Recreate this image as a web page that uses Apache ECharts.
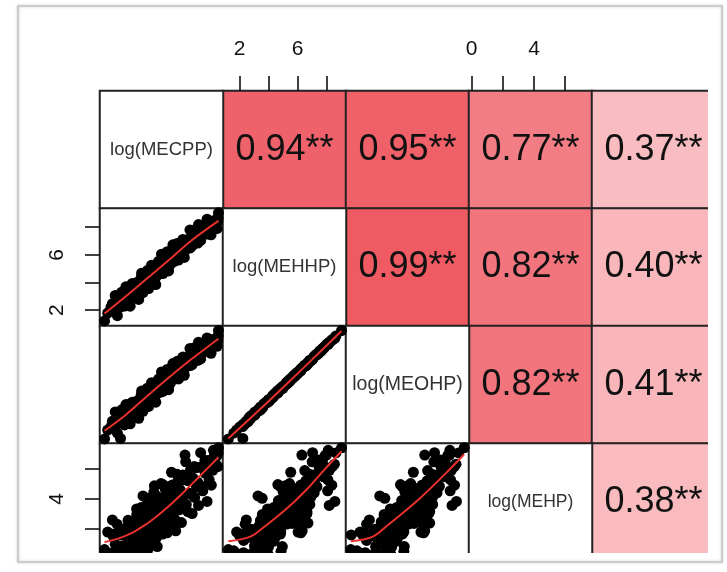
<!DOCTYPE html>
<html><head><meta charset="utf-8">
<script src="https://cdn.jsdelivr.net/npm/echarts@6/dist/echarts.min.js"></script>
<style>html,body{margin:0;padding:0;background:#fff}#c{width:727px;height:572px}</style>
</head><body><div id="c"></div>
<script>
// ---------- data ----------
const varNames = ['log(MECPP)', 'log(MEHHP)', 'log(MEOHP)', 'log(MEHP)'];

const mecpp = [1.50,1.72,1.95,2.10,2.25,2.38,2.50,2.62,2.75,2.85,2.95,3.05,3.12,3.20,3.28,3.35,3.42,3.50,3.57,3.63,
3.70,3.76,3.82,3.88,3.95,4.01,4.07,4.12,4.18,4.24,4.30,4.36,4.41,4.47,4.52,4.58,4.63,4.69,4.74,4.80,
4.85,4.91,4.96,5.02,5.07,5.13,5.18,5.24,5.29,5.35,5.40,5.46,5.52,5.58,5.63,5.69,5.75,5.81,5.87,5.93,
5.99,6.05,6.12,6.18,6.25,6.31,6.38,6.45,6.52,6.59,6.66,6.74,6.82,6.90,6.98,7.06,7.15,7.24,7.33,7.42,
7.52,7.62,7.72,7.83,7.94,8.05,8.17,8.30,8.44,8.58,8.72,8.85,8.98,9.10,9.22,9.32,9.40,9.45,9.48,9.50,
2.05,2.40,2.70,2.90,3.15,3.30,3.45,3.60,3.75,3.90,4.00,4.10,4.20,4.30,4.40,4.50,4.60,4.70,4.80,4.90,
5.00,5.10,5.20,5.30,5.40,5.50,5.60,5.70,5.80,5.90,6.00,6.10,6.20,6.30,6.40,6.50,6.60,6.70,6.80,6.90,
7.00,7.10,7.20,7.35,7.50,7.65,7.80,7.95,8.10,8.25,8.40,8.55,8.70,8.85,9.00,9.15,2.20,3.00,3.80,5.05];

const mehhp = [1.22,1.79,2.21,2.01,3.06,2.38,2.65,2.22,3.05,2.79,3.04,2.59,3.31,3.04,3.66,3.08,3.45,2.98,3.70,3.56,
3.48,3.99,3.44,3.85,4.02,3.68,4.34,3.99,3.60,4.26,4.11,4.47,3.97,4.38,4.68,4.29,3.99,4.65,4.60,5.00,
4.35,4.66,5.01,4.62,4.97,4.43,4.98,5.34,4.93,5.29,4.84,5.45,5.26,4.82,5.47,5.38,5.79,5.19,5.65,5.86,
5.52,5.93,5.30,5.91,6.23,5.73,6.00,6.27,5.79,6.36,6.58,6.21,6.48,6.01,6.84,6.60,6.30,6.85,6.60,7.15,
6.50,7.00,7.25,6.90,7.55,6.85,7.50,7.30,7.85,7.65,7.50,8.10,7.45,8.20,8.00,8.55,7.90,8.40,8.65,9.04,
2.46,1.60,3.30,2.29,3.44,2.28,3.93,2.88,3.93,2.77,3.97,4.67,3.27,4.36,3.86,4.86,3.56,4.56,5.25,4.05,
5.15,3.85,4.95,5.54,4.64,6.04,4.64,5.64,5.23,6.23,4.83,6.13,5.53,6.72,5.52,6.32,6.82,5.62,6.71,6.11,
7.11,5.81,7.01,6.65,7.80,6.65,7.79,7.34,8.19,7.04,8.08,7.63,8.58,7.72,8.37,8.12,2.21,3.69,3.57,4.90];

const meohp = [0.82,1.45,1.70,1.68,2.75,1.90,2.35,0.85,2.55,2.48,2.70,2.05,2.95,2.52,3.30,2.72,2.90,2.62,3.35,3.05,
3.12,3.48,3.10,3.46,3.52,3.30,3.95,3.62,3.10,3.88,3.60,4.10,3.58,3.90,4.30,3.78,3.61,4.15,4.22,4.48,
3.95,4.28,4.52,4.10,4.58,4.02,4.45,4.95,4.52,4.80,4.45,4.92,4.88,4.35,5.08,4.90,5.40,4.70,5.25,5.35,
5.12,5.52,4.80,5.50,5.70,5.32,5.58,5.85,5.28,5.95,6.05,5.80,6.08,5.50,6.40,6.10,5.88,6.42,6.08,6.72,
6.08,6.50,6.82,6.40,7.12,6.45,7.00,6.88,7.38,7.12,7.08,7.65,6.95,7.70,7.58,8.02,7.45,7.90,8.20,8.58,
2.09,1.24,2.90,1.82,3.05,1.90,3.45,2.48,3.52,2.30,3.56,4.25,2.80,3.95,3.40,4.45,3.15,4.08,4.85,3.58,
4.72,3.45,4.48,5.12,4.15,5.62,4.22,5.15,4.80,5.80,4.35,5.70,5.10,6.22,5.10,5.88,6.38,5.12,6.28,5.62,
6.68,5.38,6.50,6.22,7.30,6.15,7.35,6.85,7.75,6.55,7.62,7.18,8.05,7.28,7.92,7.60,1.82,3.28,3.10,4.48];

const mehp = [0.60,1.77,0.35,1.50,0.96,2.30,0.24,1.58,0.83,1.96,0.29,1.43,2.15,0.78,1.91,0.12,2.45,1.38,0.82,2.16,
0.30,2.94,1.37,2.41,0.95,2.19,3.42,1.35,0.29,2.82,1.96,3.20,0.93,2.56,3.89,1.83,0.76,2.99,2.32,3.66,
1.59,2.93,4.46,2.19,3.52,1.36,2.89,4.14,2.18,3.43,1.78,5.03,2.98,1.64,4.08,2.84,4.69,2.44,3.70,4.45,
2.90,4.06,2.32,3.67,4.93,2.99,4.25,2.61,4.67,3.74,5.20,3.27,4.44,3.71,5.28,4.26,6.94,3.63,5.22,4.40,
5.90,4.30,5.39,4.10,6.10,5.11,6.12,4.85,6.18,5.72,6.55,5.28,6.61,5.92,6.94,6.33,6.91,6.16,7.09,7.43,
2.59,0.51,1.91,0.38,2.56,1.21,1.96,0.34,3.33,1.72,0.28,2.94,4.20,1.16,2.82,0.48,4.04,1.80,3.46,1.02,
4.88,2.34,0.80,3.99,3.28,1.77,4.96,2.35,3.93,1.72,4.81,3.40,5.79,2.38,4.67,1.86,5.65,3.53,4.62,2.41,
5.60,3.70,6.49,3.14,5.48,3.02,6.17,4.81,3.56,7.10,4.54,6.59,3.83,6.58,4.92,7.26,1.64,0.71,2.96,2.71];

// correlation cells (upper triangle)
const corrRow   = [0, 0, 0, 0, 1, 1, 1, 2, 2, 3];
const corrCol   = [1, 2, 3, 4, 2, 3, 4, 3, 4, 4];
const corrValue = [0.94, 0.95, 0.77, 0.37, 0.99, 0.82, 0.40, 0.82, 0.41, 0.38];
const corrSig   = ['**','**','**','**','**','**','**','**','**','**'];

// axis ticks / tick labels
const ticksMEHHP  = [2, 4, 6, 8];
const labelsMEHHP = [2, 6];
const ticksMEHP   = [0, 2, 4, 6];
const labelsMEHP  = [0, 4];

// smoothed (loess) red lines
const smMecppMehhpX = [1.5, 3.0, 4.5, 6.0, 7.5, 9.5];
const smMecppMehhpY = [1.75, 3.0, 4.3, 5.6, 6.95, 8.45];
const smMecppMeohpX = [1.5, 3.0, 4.5, 6.0, 7.5, 9.5];
const smMecppMeohpY = [1.4, 2.55, 3.9, 5.2, 6.45, 8.0];
const smMehhpMeohpX = [1.22, 3.0, 5.0, 7.0, 9.04];
const smMehhpMeohpY = [0.85, 2.55, 4.5, 6.5, 8.55];
const smMecppMehpX  = [1.5, 2.5, 3.5, 4.5, 5.2, 6.0, 7.0, 8.0, 9.5];
const smMecppMehpY  = [1.1, 1.35, 1.75, 2.35, 2.85, 3.5, 4.4, 5.35, 6.8];
const smMehhpMehpX  = [1.22, 2.7, 3.6, 5.2, 6.6, 7.8, 9.04];
const smMehhpMehpY  = [1.15, 1.45, 2.05, 3.3, 4.6, 5.9, 7.2];
const smMeohpMehpX  = [0.82, 2.3, 3.3, 5.5, 7.4, 8.58];
const smMeohpMehpY  = [1.15, 1.45, 2.2, 4.0, 5.8, 7.0];

// ---------- layout / style ----------
const FONT = "'Liberation Sans', Arial, Helvetica, sans-serif";
const X0 = 100, Y0 = 91, CW = 123, CH = 117.5;
const diagFontSize = [18.5, 18.5, 19.5, 17.5];
const vars = [mecpp, mehhp, meohp, mehp];
const ranges = [[1.18, 9.82], [0.85, 9.35], [0.49, 8.91], [-0.17, 7.72]];
const tickSpec = { 1: [ticksMEHHP, labelsMEHHP], 3: [ticksMEHP, labelsMEHP] };

const panels = [
  { row: 1, col: 0, sx: smMecppMehhpX, sy: smMecppMehhpY },
  { row: 2, col: 0, sx: smMecppMeohpX, sy: smMecppMeohpY },
  { row: 2, col: 1, sx: smMehhpMeohpX, sy: smMehhpMeohpY },
  { row: 3, col: 0, sx: smMecppMehpX,  sy: smMecppMehpY },
  { row: 3, col: 1, sx: smMehhpMehpX,  sy: smMehhpMehpY },
  { row: 3, col: 2, sx: smMeohpMehpX,  sy: smMeohpMehpY }
];

function hiddenAxis(g, r) {
  return { gridIndex: g, type: 'value', min: r[0], max: r[1], show: false };
}
function tickAxis(g, r, spec, pos) {
  return {
    gridIndex: g, type: 'value', min: r[0], max: r[1], position: pos, z: 10,
    axisLine: { show: false, onZero: false }, splitLine: { show: false },
    axisTick: { show: true, inside: false, length: 15, customValues: spec[0],
                lineStyle: { color: '#111', width: 1.6 } },
    axisLabel: { show: true, customValues: spec[1], fontSize: 21, color: '#111',
                 fontFamily: FONT }
  };
}

const grids = [{ left: X0, top: Y0, width: CW * 5, height: CH * 4 }];
const xAxes = [{ gridIndex: 0, type: 'category', data: ['0','1','2','3','4'], show: false }];
const yAxes = [{ gridIndex: 0, type: 'category', data: ['0','1','2','3'], inverse: true, show: false }];

const whiteCells = [];
for (let r = 0; r < 4; r++) for (let c = 0; c <= r; c++) {
  whiteCells.push(r === c ? { value: [c, r, 0], label: { fontSize: diagFontSize[r] } } : { value: [c, r, 0] });
}

const series = [
  {
    type: 'heatmap', xAxisIndex: 0, yAxisIndex: 0,
    data: corrValue.map((v, i) => [corrCol[i], corrRow[i], v]),
    itemStyle: { borderColor: '#222', borderWidth: 2 },
    emphasis: { disabled: true },
    label: { show: true, fontSize: 36, color: '#111', fontFamily: FONT,
             formatter: p => corrValue[p.dataIndex].toFixed(2) + corrSig[p.dataIndex] }
  },
  {
    type: 'heatmap', xAxisIndex: 0, yAxisIndex: 0,
    data: whiteCells,
    itemStyle: { borderColor: '#222', borderWidth: 2 },
    emphasis: { disabled: true },
    label: { show: true, fontSize: 18, color: '#333', fontFamily: FONT,
             formatter: p => p.value[0] === p.value[1] ? varNames[p.value[0]] : '' }
  }
];

panels.forEach(p => {
  const g = grids.length;
  grids.push({ left: X0 + p.col * CW, top: Y0 + p.row * CH, width: CW, height: CH });
  xAxes.push(hiddenAxis(g, ranges[p.col]));
  if (p.col === 0 && tickSpec[p.row]) {
    const ax = tickAxis(g, ranges[p.row], tickSpec[p.row], 'left');
    ax.axisLabel.rotate = 90;
    ax.axisLabel.margin = 32;
    yAxes.push(ax);
  } else {
    yAxes.push(hiddenAxis(g, ranges[p.row]));
  }
  const xs = vars[p.col], ys = vars[p.row];
  series.push({
    type: 'scatter', xAxisIndex: g, yAxisIndex: g, silent: true,
    data: xs.map((v, k) => [v, ys[k]]),
    symbolSize: 11, itemStyle: { color: '#000', opacity: 1 }
  });
  series.push({
    type: 'line', xAxisIndex: g, yAxisIndex: g, silent: true,
    data: p.sx.map((v, k) => [v, p.sy[k]]),
    smooth: 0.35, symbol: 'none', lineStyle: { color: '#e8302c', width: 2 }
  });
});

// top axes for columns 1 (MEHHP) and 3 (MEHP)
[1, 3].forEach(col => {
  const g = grids.length;
  grids.push({ left: X0 + col * CW, top: Y0, width: CW, height: CH });
  const ax = tickAxis(g, ranges[col], tickSpec[col], 'top');
  ax.axisLabel.margin = 31;
  xAxes.push(ax);
  yAxes.push({ gridIndex: g, type: 'value', min: 0, max: 1, show: false });
});

const chart = echarts.init(document.getElementById('c'), null, { renderer: 'canvas' });
chart.setOption({
  animation: false,
  backgroundColor: '#fff',
  textStyle: { fontFamily: FONT },
  grid: grids, xAxis: xAxes, yAxis: yAxes,
  visualMap: [
    { type: 'continuous', show: false, seriesIndex: 0, dimension: 2, min: 0, max: 1,
      inRange: { color: ['#fff7f7', '#ef5862'] } },
    { type: 'continuous', show: false, seriesIndex: 1, dimension: 2, min: 0, max: 1,
      inRange: { color: ['#ffffff', '#ffffff'] } }
  ],
  series: series,
  graphic: [
    { type: 'rect', z: 100, shape: { x: 708, y: 0, width: 19, height: 572 }, style: { fill: '#fff' } },
    { type: 'rect', z: 100, shape: { x: 0, y: 553, width: 727, height: 19 }, style: { fill: '#fff' } },
    { type: 'rect', z: 101, shape: { x: 18, y: 6, width: 704, height: 556 },
      style: { fill: 'none', stroke: '#c4c4c4', lineWidth: 1.5,
               shadowBlur: 3, shadowColor: 'rgba(0,0,0,0.25)' } }
  ]
});
</script>
</body></html>
